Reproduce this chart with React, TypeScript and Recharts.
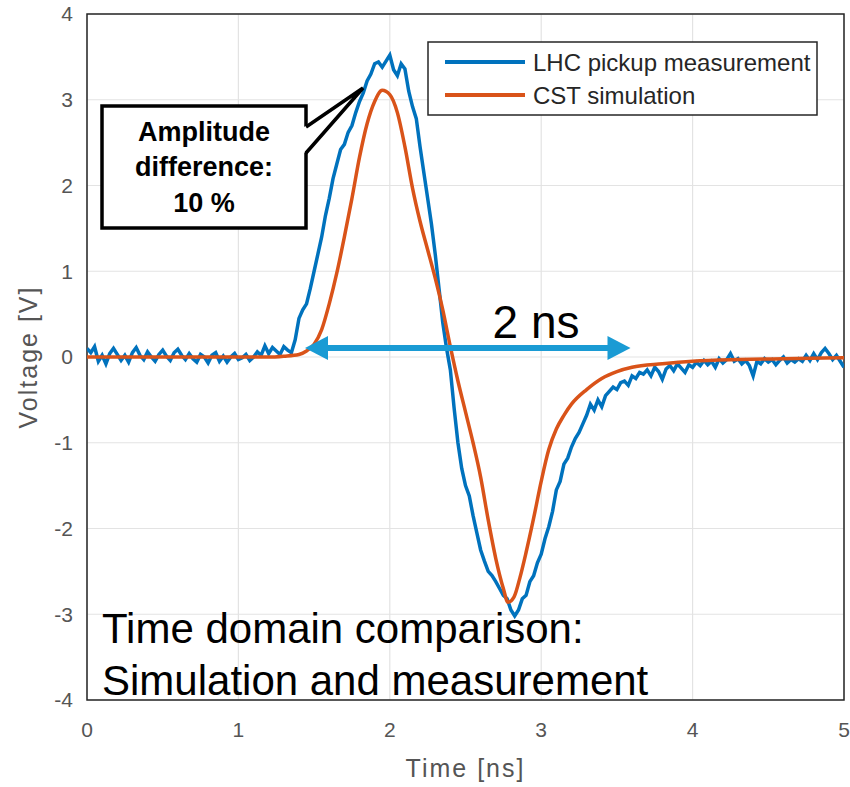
import React from 'react';
import { LineChart, Line, XAxis, YAxis, CartesianGrid, ReferenceArea, ReferenceLine } from 'recharts';

// CST simulation (ns, V)
const simTime = [
  0, 0.5, 1.0, 1.2, 1.3, 1.4, 1.45, 1.5, 1.55, 1.6, 1.65, 1.7, 1.75, 1.8, 1.85, 1.9, 1.95, 2.0,
  2.05, 2.1, 2.15, 2.2, 2.25, 2.3, 2.35, 2.4, 2.45, 2.5, 2.55, 2.6, 2.65, 2.7, 2.75, 2.78, 2.82,
  2.86, 2.9, 2.95, 3.0, 3.05, 3.1, 3.15, 3.2, 3.3, 3.4, 3.5, 3.6, 3.8, 4.0, 4.3, 4.6, 5.0,
];
const simVoltage = [
  0, 0, 0, 0, 0.01, 0.03, 0.07, 0.15, 0.32, 0.62, 0.98, 1.4, 1.85, 2.33, 2.72, 2.98, 3.11, 3.06,
  2.85, 2.45, 1.97, 1.58, 1.25, 0.92, 0.55, 0.12, -0.28, -0.64, -1.0, -1.4, -1.9, -2.35, -2.7, -2.86, -2.8,
  -2.57, -2.28, -1.88, -1.45, -1.08, -0.84, -0.68, -0.55, -0.38, -0.25, -0.17, -0.12, -0.08, -0.05, -0.03, -0.02, -0.01,
];

// LHC pickup measurement, sampled every 0.025 ns from 0 to 5 ns
const measStep = 0.025;
const measVoltage = [
  0.10, 0.05, 0.12, -0.05, 0.02, -0.08, 0.04, 0.10, 0.03, -0.04,
  0.02, -0.06, 0.05, 0.11, 0.02, -0.03, 0.06, 0.00, -0.05, 0.03,
  0.08, 0.01, -0.04, 0.05, 0.09, 0.02, -0.03, 0.04, -0.02, -0.06,
  0.03, 0.00, -0.07, 0.02, 0.05, -0.05, 0.01, -0.06, 0.00, 0.04,
  -0.03, -0.01, 0.03, -0.04, 0.00, 0.06, 0.02, 0.13, 0.04, 0.11,
  0.07, 0.03, 0.12, 0.08, 0.05, 0.20, 0.45, 0.55, 0.62, 0.80,
  1.00, 1.20, 1.40, 1.65, 1.85, 2.08, 2.25, 2.42, 2.48, 2.62,
  2.70, 2.85, 2.98, 3.08, 3.22, 3.30, 3.42, 3.44, 3.38, 3.45,
  3.52, 3.35, 3.28, 3.42, 3.36, 3.10, 2.92, 2.78, 2.45, 2.15,
  1.85, 1.55, 1.20, 0.80, 0.40, 0.10, -0.15, -0.60, -1.00, -1.30,
  -1.50, -1.62, -1.85, -2.05, -2.25, -2.38, -2.50, -2.55, -2.62, -2.70,
  -2.78, -2.82, -2.95, -3.02, -2.95, -2.82, -2.78, -2.62, -2.55, -2.40,
  -2.30, -2.12, -1.98, -1.80, -1.55, -1.45, -1.25, -1.18, -1.05, -0.95,
  -0.88, -0.78, -0.68, -0.55, -0.62, -0.50, -0.58, -0.45, -0.40, -0.35,
  -0.38, -0.30, -0.28, -0.33, -0.22, -0.25, -0.18, -0.20, -0.15, -0.22,
  -0.12, -0.17, -0.26, -0.14, -0.10, -0.16, -0.08, -0.13, -0.18, -0.09,
  -0.12, -0.06, -0.10, -0.04, -0.09, -0.05, -0.12, -0.02, -0.07, -0.03,
  0.04, -0.05, -0.02, -0.08, -0.04, -0.10, -0.22, -0.05, -0.08, -0.02,
  -0.06, -0.03, -0.09, -0.04, 0.00, -0.07, -0.03, -0.06, -0.02, -0.05,
  0.02, -0.04, 0.04, -0.03, 0.05, 0.10, 0.04, -0.03, 0.02, -0.05,
  -0.12,
];

const xTicks = [0, 1, 2, 3, 4, 5];
const yTicks = [-4, -3, -2, -1, 0, 1, 2, 3, 4];
const arrowSpan = [1.44, 3.59];
const arrowLevel = 0.105;

const BLUE = '#0072BD';
const ORANGE = '#D95319';
const ARROW = '#1a9bd4';
const FONT = '"Liberation Sans", Arial, sans-serif';

const simData = simTime.map((t, i) => ({ t, v: simVoltage[i] }));
const measData = measVoltage.map((v, i) => ({ t: +(i * measStep).toFixed(3), v }));

const DoubleArrow = (props: any) => {
  const { x1, y1, x2 } = props;
  const h = 23;
  const w = 12;
  return (
    <g>
      <line x1={x1 + h - 2} y1={y1} x2={x2 - h + 2} y2={y1} stroke={ARROW} strokeWidth={6} />
      <polygon points={`${x1},${y1} ${x1 + h},${y1 - w} ${x1 + h},${y1 + w}`} fill={ARROW} />
      <polygon points={`${x2},${y1} ${x2 - h},${y1 - w} ${x2 - h},${y1 + w}`} fill={ARROW} />
    </g>
  );
};

const VoltageLabel = (props: any) => {
  const { viewBox } = props;
  const x = viewBox.x + 28;
  const y = viewBox.y + viewBox.height / 2;
  return (
    <text x={x} y={y} transform={`rotate(-90, ${x}, ${y})`} textAnchor="middle" dominantBaseline="central"
      fill="#555" fontSize={25} letterSpacing={2} fontFamily={FONT}>
      Voltage [V]
    </text>
  );
};

export default function App() {
  return (
    <div style={{ position: 'relative', width: 850, height: 787, overflow: 'hidden', fontFamily: FONT }}>
      <style>{'html, body { margin: 0; padding: 0; overflow: hidden; }'}</style>
      <LineChart width={850} height={787} margin={{ top: 14, right: 6, bottom: 47, left: 0 }} style={{ display: 'block' }}>
        <CartesianGrid stroke="#e3e3e3" strokeWidth={1.2} />
        <XAxis dataKey="t" type="number" domain={[0, 5]} ticks={xTicks} interval={0} height={40}
          axisLine={false} tickLine={false} tickSize={0} tickMargin={22} allowDataOverflow
          tick={{ fill: '#555', fontSize: 21, fontFamily: FONT }}
          label={{ value: 'Time [ns]', position: 'bottom', offset: 19, fill: '#555', fontSize: 25, letterSpacing: 2, fontFamily: FONT }} />
        <YAxis type="number" domain={[-4, 4]} ticks={yTicks} interval={0} width={87}
          axisLine={false} tickLine={false} tickSize={0} tickMargin={14} allowDataOverflow
          tick={{ fill: '#555', fontSize: 21, fontFamily: FONT }}
          label={<VoltageLabel />} />
        <ReferenceArea x1={0} x2={5} y1={-4} y2={4} fill="none" stroke="#262626" strokeWidth={1.5} strokeOpacity={1} />
        <Line data={measData} dataKey="v" type="linear" stroke={BLUE} strokeWidth={3.5} dot={false}
          isAnimationActive={false} name="LHC pickup measurement" />
        <Line data={simData} dataKey="v" type="monotone" stroke={ORANGE} strokeWidth={3.5} dot={false}
          isAnimationActive={false} name="CST simulation" />
        <ReferenceLine segment={[{ x: arrowSpan[0], y: arrowLevel }, { x: arrowSpan[1], y: arrowLevel }]}
          shape={<DoubleArrow />} ifOverflow="visible" />
      </LineChart>
      <svg width={850} height={787} style={{ position: 'absolute', left: 0, top: 0, pointerEvents: 'none', display: 'block' }}>
        {/* legend */}
        <rect x={428} y={42} width={389} height={73} fill="#fff" stroke="#262626" strokeWidth={1.5} />
        <line x1={445} y1={62} x2={525} y2={62} stroke={BLUE} strokeWidth={4} />
        <line x1={445} y1={95} x2={525} y2={95} stroke={ORANGE} strokeWidth={4} />
        <text x={533} y={62} dominantBaseline="central" fontSize={24} fill="#262626" fontFamily={FONT}>LHC pickup measurement</text>
        <text x={533} y={95} dominantBaseline="central" fontSize={24} fill="#262626" fontFamily={FONT}>CST simulation</text>

        {/* callout */}
        <rect x={102} y={106} width={204} height={122} fill="#fff" stroke="#000" strokeWidth={3.5} />
        <polygon points="304,127 363,88 304,153" fill="#fff" />
        <polyline points="306,127 363,88 306,153" fill="none" stroke="#000" strokeWidth={3.5} strokeLinejoin="miter" />
        <g fontFamily={FONT} fontWeight="bold" fontSize={27} fill="#000" textAnchor="middle">
          <text x={204} y={132} dominantBaseline="central">Amplitude</text>
          <text x={204} y={167} dominantBaseline="central">difference:</text>
          <text x={204} y={203} dominantBaseline="central">10 %</text>
        </g>

        <text x={536} y={338} textAnchor="middle" fontSize={46} fill="#000" fontFamily={FONT}>2 ns</text>
        <text x={102} y={643} fontSize={42} fill="#000" fontFamily={FONT}>Time domain comparison:</text>
        <text x={102} y={695} fontSize={42} fill="#000" fontFamily={FONT}>Simulation and measurement</text>
      </svg>
    </div>
  );
}
